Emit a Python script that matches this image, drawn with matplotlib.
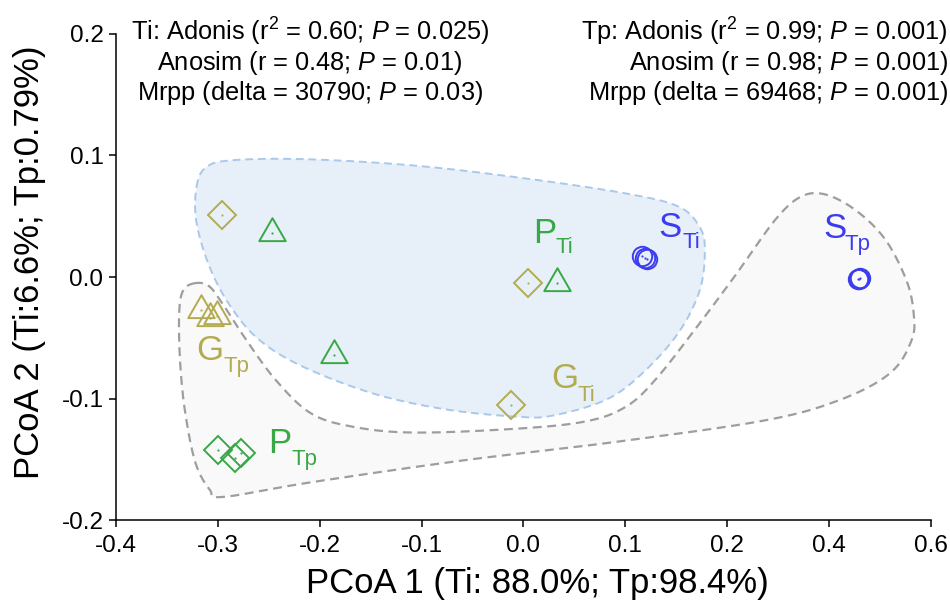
import matplotlib
matplotlib.use("Agg")
import matplotlib.pyplot as plt
import numpy as np
from matplotlib.path import Path

plt.rcParams['font.family'] = ['Liberation Sans', 'DejaVu Sans']
plt.rcParams['mathtext.fontset'] = 'custom'
plt.rcParams['mathtext.rm'] = 'Liberation Sans'
plt.rcParams['mathtext.it'] = 'Liberation Sans:italic'

# PCoA scores
g_ti_x = [-0.296, 0.004, -0.012]
g_ti_y = [0.051, -0.005, -0.105]
p_ti_x = [-0.247, 0.033, -0.186]
p_ti_y = [0.036, -0.005, -0.064]
s_ti_x = [0.116, 0.119, 0.121]
s_ti_y = [0.017, 0.016, 0.015]
g_tp_x = [-0.317, -0.308, -0.301]
g_tp_y = [-0.027, -0.034, -0.032]
p_tp_x = [-0.300, -0.283, -0.277]
p_tp_y = [-0.142, -0.149, -0.145]
s_tp_x = [0.329, 0.330, 0.328]
s_tp_y = [-0.002, -0.001, -0.002]

# group outlines
ti_hull_x = [-0.321, -0.312, -0.287, -0.216, -0.111, -0.006, 0.099, 0.152, 0.173, 0.178,
             0.173, 0.152, 0.117, 0.081, 0.029, -0.006, -0.076, -0.147, -0.216, -0.259,
             -0.287, -0.308, -0.321]
ti_hull_y = [0.074, 0.090, 0.096, 0.097, 0.092, 0.082, 0.069, 0.058, 0.041, 0.022,
             -0.011, -0.046, -0.079, -0.101, -0.114, -0.115, -0.109, -0.096, -0.074, -0.052,
             -0.025, 0.008, 0.045]
tp_hull_x = [-0.322, -0.334, -0.338, -0.337, -0.332, -0.322, -0.308, -0.295, -0.209, -0.060,
             0.088, 0.237, 0.311, 0.360, 0.381, 0.383, 0.376, 0.355, 0.326, 0.296,
             0.272, 0.247, 0.212, 0.173, 0.130, 0.100, 0.060, -0.010, -0.109, -0.169,
             -0.209, -0.243, -0.272, -0.293, -0.308]
tp_hull_y = [-0.005, -0.011, -0.030, -0.071, -0.112, -0.153, -0.175, -0.181, -0.169, -0.151,
             -0.136, -0.118, -0.101, -0.079, -0.052, -0.030, -0.003, 0.031, 0.055, 0.068,
             0.066, 0.047, 0.006, -0.038, -0.084, -0.107, -0.119, -0.125, -0.128, -0.123,
             -0.112, -0.085, -0.052, -0.025, -0.008]

x_ticks = [-0.4, -0.3, -0.2, -0.1, 0.0, 0.1, 0.2, 0.3, 0.4]
x_tick_labels = ['-0.4', '-0.3', '-0.2', '-0.1', '0.0', '0.1', '0.2', '0.4', '0.6']
y_ticks = [-0.2, -0.1, 0.0, 0.1, 0.2]
y_tick_labels = ['-0.2', '-0.1', '0.0', '0.1', '0.2']

OLIVE = '#b3ab4f'
GREEN = '#38a845'
BLUE = '#3d3df0'


def smooth_closed(xs, ys, n=24):
    # closed Catmull-Rom curve through the outline points
    p = np.column_stack([xs, ys])
    m = len(p)
    t = np.linspace(0, 1, n, endpoint=False)[:, None]
    segs = []
    for i in range(m):
        p0, p1, p2, p3 = p[i - 1], p[i], p[(i + 1) % m], p[(i + 2) % m]
        segs.append(0.5 * (2 * p1 + (-p0 + p2) * t
                           + (2 * p0 - 5 * p1 + 4 * p2 - p3) * t ** 2
                           + (-p0 + 3 * p1 - 3 * p2 + p3) * t ** 3))
    out = np.vstack(segs)
    return np.vstack([out, out[:1]])


fig = plt.figure(figsize=(9.5, 6.09), dpi=100)
ax = fig.add_axes([0.1221, 0.1461, 0.8579, 0.7981])

tp = smooth_closed(tp_hull_x, tp_hull_y)
ax.fill(tp[:, 0], tp[:, 1], facecolor='#f9f9f9', edgecolor='none', zorder=1)
ax.plot(tp[:, 0], tp[:, 1], color='#9e9e9e', lw=1.6, dashes=(4, 2.5), zorder=2)
ti = smooth_closed(ti_hull_x, ti_hull_y)
ax.fill(ti[:, 0], ti[:, 1], facecolor='#e7f0f9', edgecolor='none', zorder=1.5)
ax.plot(ti[:, 0], ti[:, 1], color='#a9c8ea', lw=1.4, dashes=(4, 2.5), zorder=2)

h = np.sqrt(3) / 2
tri = Path([(0, 2 * h / 3), (-0.5, -h / 3), (0.5, -h / 3), (0, 2 * h / 3)], closed=True)

groups = [
    (g_ti_x, g_ti_y, 'D', 14.5, OLIVE),
    (p_ti_x, p_ti_y, tri, 22, GREEN),
    (s_ti_x, s_ti_y, 'o', 14, BLUE),
    (g_tp_x, g_tp_y, tri, 22, OLIVE),
    (p_tp_x, p_tp_y, 'D', 14.5, GREEN),
    (s_tp_x, s_tp_y, 'o', 14, BLUE),
]
for gx, gy, mk, ms, col in groups:
    ax.plot(gx, gy, linestyle='none', marker=mk, ms=ms, mfc='none', mec=col, mew=1.4, zorder=3)
    ax.plot(gx, gy, linestyle='none', marker='o', ms=1.6, mfc=col, mec='none', zorder=4)

labels = [
    ('P', 'Ti', 0.009, 0.028, 0.031, 0.020, GREEN),
    ('S', 'Ti', 0.132, 0.033, 0.156, 0.024, BLUE),
    ('G', 'Ti', 0.027, -0.091, 0.053, -0.102, OLIVE),
    ('G', 'Tp', -0.321, -0.068, -0.294, -0.078, OLIVE),
    ('P', 'Tp', -0.251, -0.145, -0.228, -0.155, GREEN),
    ('S', 'Tp', 0.294, 0.032, 0.315, 0.022, BLUE),
]
for big, sub, x1, y1, x2, y2, col in labels:
    ax.text(x1, y1, big, color=col, fontsize=25, ha='left', va='baseline', zorder=5)
    ax.text(x2, y2, sub, color=col, fontsize=16, ha='left', va='baseline', zorder=5)

ax.set_xlim(-0.4, 0.4)
ax.set_ylim(-0.2, 0.2)
ax.set_xticks(x_ticks)
ax.set_xticklabels(x_tick_labels)
ax.set_yticks(y_ticks)
ax.set_yticklabels(y_tick_labels)
ax.tick_params(direction='out', length=5, width=1.1, labelsize=17.5, colors='black')
ax.tick_params(axis='x', pad=6)
ax.tick_params(axis='y', pad=4)
for s in ['top', 'right']:
    ax.spines[s].set_visible(False)
for s in ['left', 'bottom']:
    ax.spines[s].set_linewidth(1.1)
ax.set_facecolor('none')

fig.text(537 / 950, 1 - 584 / 609, 'PCoA 1 (Ti: 88.0%; Tp:98.4%)', fontsize=25,
         ha='center', va='center')
fig.text(30 / 950, 1 - 262 / 609, 'PCoA 2 (Ti:6.6%; Tp:0.79%)', fontsize=25,
         ha='center', va='center', rotation=90)

left_stats = [r'Ti: Adonis (r$^2$ = 0.60; $\it{P}$ = 0.025)',
              r'Anosim (r = 0.48; $\it{P}$ = 0.01)',
              r'Mrpp (delta = 30790; $\it{P}$ = 0.03)']
right_stats = [r'Tp: Adonis (r$^2$ = 0.99; $\it{P}$ = 0.001)',
               r'Anosim (r = 0.98; $\it{P}$ = 0.001)',
               r'Mrpp (delta = 69468; $\it{P}$ = 0.001)']
line_y = [32, 63, 93]
for s, yy in zip(left_stats, line_y):
    fig.text(310 / 950, 1 - yy / 609, s, fontsize=18.3, ha='center', va='center')
for s, yy in zip(right_stats, line_y):
    fig.text(948 / 950, 1 - yy / 609, s, fontsize=18.3, ha='right', va='center')

fig.savefig('out.png', dpi=100)
